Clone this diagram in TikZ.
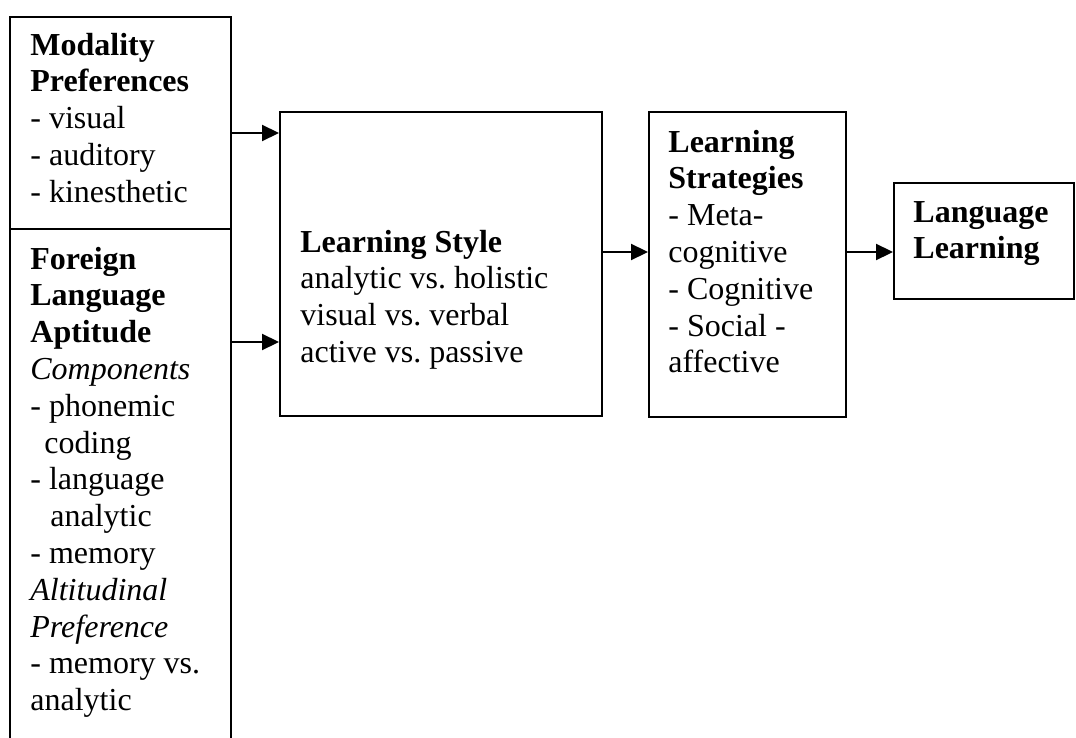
\documentclass[tikz,border=0pt]{standalone}
\usepackage{fontspec}
\setmainfont{Liberation Serif}
\usetikzlibrary{arrows.meta,positioning}
\frenchspacing

\begin{document}
\begin{tikzpicture}[x=0.5pt,y=-0.5pt,>={Triangle[length=8.5pt,width=8pt]},
  box/.style={draw,line width=1.1pt,inner sep=0,anchor=north west},
  txt/.style={align=left,anchor=north west,inner sep=0,font=\fontsize{16}{18.4}\selectfont}]
   \useasboundingbox (0,0) rectangle (1076,738);
   \clip (0,0) rectangle (1076,738);
   % boxes
   \node[box,minimum width=110.5pt,minimum height=106pt] (mod)   at (9,16)    {};
   \node[box,minimum width=110.5pt,minimum height=266pt] (apt)   at (9,228)   {};
   \node[box,minimum width=161pt,minimum height=152pt]   (style) at (279,111) {};
   \node[box,minimum width=98.5pt,minimum height=152.5pt] (strat) at (648,111) {};
   \node[box,minimum width=90pt,minimum height=58pt]     (lang)  at (893,182) {};
   % texts
   \node[txt] (modtxt) at (30,29) {\strut\textbf{Modality}\\ \textbf{Preferences}\\ - visual\\ - auditory\\ - kinesthetic};
   \node[txt] (apttxt) at (30,243) {\strut\textbf{Foreign}\\ \textbf{Language}\\ \textbf{Aptitude}\\ \textit{Components}\\
     - phonemic\\ \hspace*{7pt}coding\\ - language\\ \hspace*{10pt}analytic\\ - memory\\ \textit{Altitudinal}\\
     \textit{Preference}\\ - memory vs.\\ analytic};
   \node[txt] (styletxt) at (300,226) {\strut\textbf{Learning Style}\\ analytic vs. holistic\\ visual vs. verbal\\ active vs. passive};
   \node[txt] (strattxt) at (668,126) {\strut\textbf{Learning}\\ \textbf{Strategies}\\ - Meta-\\ cognitive\\ - Cognitive\\ - Social -\\ affective};
   \node[txt] (langtxt) at (913,196) {\strut\textbf{Language}\\ \textbf{Learning}};
   % arrows
   \coordinate (a1) at (0,133);
   \coordinate (a2) at (0,342);
   \coordinate (a3) at (0,252);
   \path[->,line width=1.1pt]
    (mod.east |- a1)   edge (style.west |- a1)
    (apt.east |- a2)   edge (style.west |- a2)
    (style.east |- a3) edge (strat.west |- a3)
    (strat.east |- a3) edge (lang.west |- a3);
\end{tikzpicture}
\end{document}
